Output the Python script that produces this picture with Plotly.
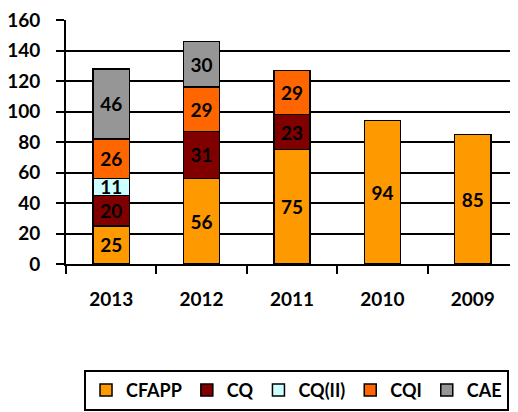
import plotly.graph_objects as go

# data
years = ["2013", "2012", "2011", "2010", "2009"]
cfapp = [25, 56, 75, 94, 85]
cq = [20, 31, 23, None, None]
cq_ii = [11, None, None, None, None]
cqi = [26, 29, 29, None, None]
cae = [46, 30, None, None, None]

series = [
    ("CFAPP", cfapp, "#FF9900"),
    ("CQ", cq, "#800000"),
    ("CQ(II)", cq_ii, "#CCFFFF"),
    ("CQI", cqi, "#FF6600"),
    ("CAE", cae, "#969696"),
]

font_family = "Lato, Carlito, Arial, sans-serif"

fig = go.Figure()
for name, vals, color in series:
    fig.add_trace(go.Bar(
        x=years,
        y=vals,
        name=name,
        marker=dict(color=color, line=dict(color="black", width=1.5)),
        width=0.4,
        text=vals,
        textposition="inside",
        insidetextanchor="middle",
        textangle=0,
        textfont=dict(size=19, color="black", family=font_family, weight="bold"),
    ))

# the page body adds an 8px offset, so the figure is 8px smaller than the window
fig.update_layout(
    barmode="stack",
    width=510,
    height=404,
    margin=dict(l=58, r=0, t=12, b=148, autoexpand=False),
    plot_bgcolor="white",
    paper_bgcolor="white",
    font=dict(family=font_family, size=19, color="black", weight="bold"),
    uniformtext=dict(minsize=19, mode="show"),
    showlegend=True,
    legend=dict(
        orientation="h",
        x=0.51, xanchor="center",
        y=-0.434, yanchor="top",
        bordercolor="black", borderwidth=2,
        font=dict(size=18, family=font_family, weight="bold"),
        traceorder="normal",
        itemwidth=30,
        tracegroupgap=0,
    ),
)

fig.update_yaxes(
    range=[0, 160],
    dtick=20,
    showgrid=True,
    gridcolor="black",
    gridwidth=2,
    showline=True,
    linecolor="black",
    linewidth=2,
    ticks="outside",
    ticklen=8,
    tickwidth=2,
    tickcolor="black",
    ticklabelstandoff=12,
    ticklabeloverflow="allow",
    zeroline=False,
    fixedrange=True,
)
fig.update_xaxes(
    range=[-0.5, 4.5],
    showline=True,
    linecolor="black",
    linewidth=2,
    ticks="outside",
    tickson="boundaries",
    ticklen=8,
    tickwidth=2,
    tickcolor="black",
    ticklabelstandoff=17,
    showgrid=False,
)

fig.write_html("out.html")
